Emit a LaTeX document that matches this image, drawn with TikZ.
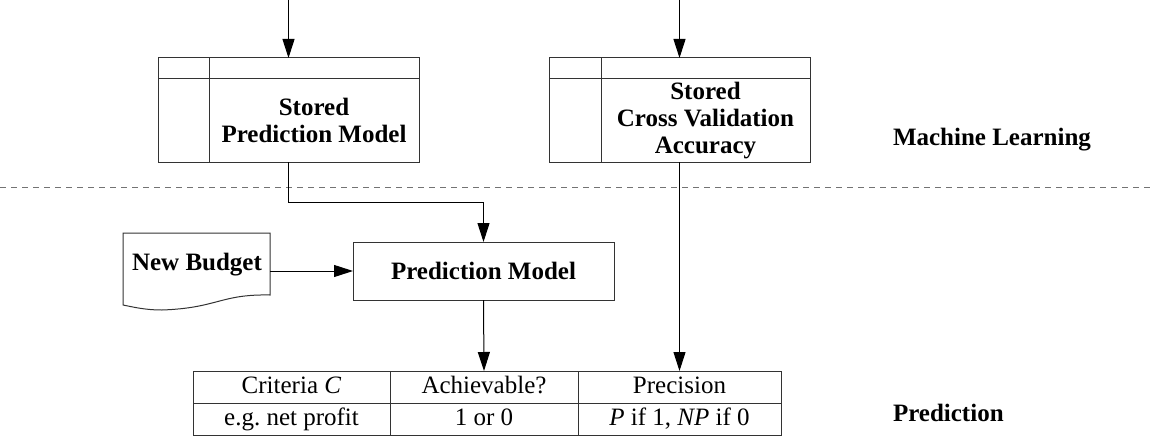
\documentclass[tikz,border=0pt]{standalone}
\usepackage{fontspec}
\setmainfont{Liberation Serif}
\usetikzlibrary{arrows.meta,calc}
\frenchspacing
\begin{document}
\begin{tikzpicture}[x=1pt,y=-1pt,
  every node/.style={inner sep=0pt, outer sep=0pt},
  boxline/.style={draw=black!80, line width=1pt},
  lbl/.style={font=\fontsize{25}{27}\selectfont\bfseries, align=center},
  cell/.style={draw=black!80, line width=1pt, minimum height=32pt, text height=17pt, text depth=5pt, font=\fontsize{25}{27}\selectfont},
  conn/.style={line width=1pt, -{Triangle[length=19pt,width=12pt]}},
  divider/.style={draw=black!55, line width=1pt, dash pattern=on 6pt off 5pt}]
\useasboundingbox (0,0) rectangle (1150,436);

% divider
\draw[divider] (0,187) -- (1150,187);

% stored prediction model
\node[boxline, minimum width=261pt, minimum height=104pt] (spm) at (288.5,110) {};
\draw[boxline] ($(spm.north west)+(51,0)$) -- ($(spm.south west)+(51,0)$);
\draw[boxline] ($(spm.north west)+(0,20)$) -- ($(spm.north east)+(0,20)$);
\node[lbl] (spmtext) at (314,120) {Stored\\Prediction Model};

% stored cross validation accuracy
\node[boxline, minimum width=261pt, minimum height=104pt] (scv) at (679.5,110) {};
\draw[boxline] ($(scv.north west)+(52,0)$) -- ($(scv.south west)+(52,0)$);
\draw[boxline] ($(scv.north west)+(0,20)$) -- ($(scv.north east)+(0,20)$);
\node[lbl] (scvtext) at (705.5,121) {Stored\\Cross Validation\\Accuracy};

% section labels
\node[lbl, anchor=west] (ml) at (893,140) {Machine Learning};
\node[lbl, anchor=west] (pr) at (893,413) {Prediction};

% new budget document
\node[minimum width=147pt, minimum height=76pt] (nb) at (196.5,271) {};
\draw[boxline] (nb.north west) -- (nb.north east) -- ($(nb.north east)+(0,62)$)
  .. controls ($(nb.north east)+(-50,61)$) and ($(nb.north west)+(95,75)$) .. ($(nb.north west)+(39,77)$)
  .. controls ($(nb.north west)+(22,77)$) and ($(nb.north west)+(10,74)$) .. ($(nb.north west)+(0,72)$)
  -- cycle;
\node[lbl] (nbtext) at (197,265) {New Budget};

% prediction model
\node[boxline, lbl, minimum width=261pt, minimum height=58pt] (pm) at (483.5,271) {Prediction Model};

% table
\node[cell, minimum width=197pt] (c11) at (291.5,387) {Criteria \textit{C}};
\node[cell, minimum width=188pt] (c12) at (484,387) {Achievable?};
\node[cell, minimum width=203pt] (c13) at (679.5,387) {Precision};
\node[cell, minimum width=197pt] (c21) at (291.5,419) {e.g. net profit};
\node[cell, minimum width=188pt] (c22) at (484,419) {1 or 0};
\node[cell, minimum width=203pt] (c23) at (679.5,419) {\textit{P} if 1, \textit{NP} if 0};

% connectors
\coordinate (in1) at (288.5,0);
\coordinate (in2) at (679.5,0);
\draw[conn] (in1) -- (spm.north);
\draw[conn] (in2) -- (scv.north);
\draw[conn] (spm.south) -- ++(0,40) -| (pm.north);
\draw[conn] (nb.east) -- (pm.west);
\draw[conn] (pm.south) -- (c12.north);
\draw[conn] (scv.south) -- (c13.north);
\end{tikzpicture}
\end{document}
